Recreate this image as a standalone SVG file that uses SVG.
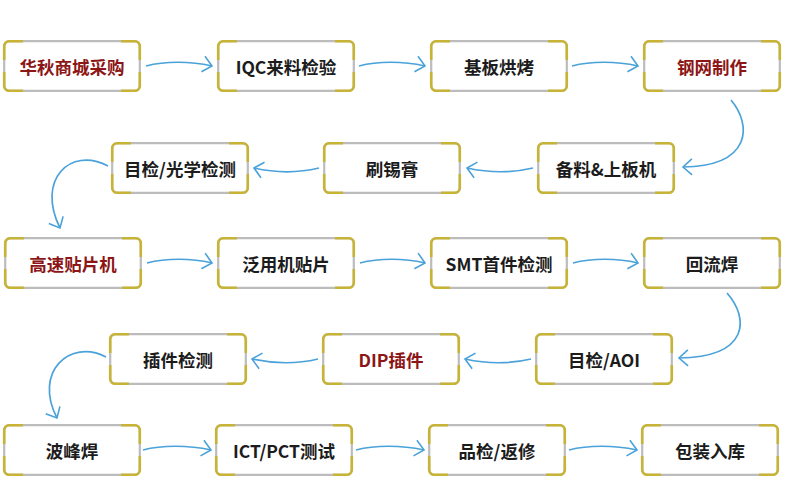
<svg xmlns="http://www.w3.org/2000/svg" width="785" height="500" viewBox="0 0 785 500">
<style>
.t{font-family:"Noto Sans CJK SC","Noto Sans",sans-serif;font-weight:bold;font-size:17.5px;fill:#1c1c1c;text-anchor:middle;dominant-baseline:central}
.r{fill:#8c1616}
.c path{fill:none;stroke:#4aa2da;stroke-width:1.7;marker-end:url(#ah)}
</style>
<defs>
<marker id="ah" markerUnits="userSpaceOnUse" markerWidth="14" markerHeight="20" viewBox="0 0 14 20" refX="11" refY="10" orient="auto">
<path d="M2,2 L11,10 L2,18" fill="none" stroke="#4aa2da" stroke-width="1.6"/>
</marker>
<g id="fr">
<rect x="1.2" y="1.2" width="135.6" height="49.6" rx="5" fill="#fff" stroke="#bcbcbc" stroke-width="2.2"/>
<path d="M1.2,20 L1.2,6.2 A5,5 0 0 1 6.2,1.2 L20,1.2 M118,1.2 L131.8,1.2 A5,5 0 0 1 136.8,6.2 L136.8,20 M136.8,32 L136.8,45.8 A5,5 0 0 1 131.8,50.8 L118,50.8 M20,50.8 L6.2,50.8 A5,5 0 0 1 1.2,45.8 L1.2,32" fill="none" stroke="#c7b336" stroke-width="2.6"/>
</g>
</defs>
<rect width="785" height="500" fill="#fff"/>
<g class="c" id="connectors">
<path d="M146,66 C165,61 190,61 212,66"/>
<path d="M359,66 C378,61 403,61 425,66"/>
<path d="M572,66 C591,61 616,61 638,66"/>
<path d="M731,100 C752,125 752,166 683,167"/>
<path d="M533,168 C512,173 490,173 467,168"/>
<path d="M319,168 C298,173 276,173 254,168"/>
<path d="M108,166 C70,146 36,180 60,228"/>
<path d="M147,263 C166,258 191,258 212,263"/>
<path d="M360,263 C379,258 404,258 425,263"/>
<path d="M573,263 C592,258 617,258 638,263"/>
<path d="M727,293 C749,318 750,357 679,358"/>
<path d="M531,359 C510,364 488,364 465,359"/>
<path d="M318,359 C297,364 275,364 252,359"/>
<path d="M106,357 C70,338 33,372 57,418"/>
<path d="M143,450 C162,445 188,445 211,450"/>
<path d="M356,450 C375,445 401,445 424,450"/>
<path d="M569,450 C588,445 614,445 637,450"/>
</g>
<g id="n1"><use href="#fr" x="3" y="40"/><text class="t r" x="72" y="66">华秋商城采购</text></g>
<g id="n2"><use href="#fr" x="217" y="40"/><text class="t" x="286" y="66">IQC来料检验</text></g>
<g id="n3"><use href="#fr" x="430" y="40"/><text class="t" x="499" y="66">基板烘烤</text></g>
<g id="n4"><use href="#fr" x="643" y="40"/><text class="t r" x="712" y="66">钢网制作</text></g>
<g id="n5"><use href="#fr" x="537" y="142"/><text class="t" x="606" y="168">备料&amp;上板机</text></g>
<g id="n6"><use href="#fr" x="323" y="142"/><text class="t" x="392" y="168">刷锡膏</text></g>
<g id="n7"><use href="#fr" x="111" y="142"/><text class="t" x="180" y="168">目检/光学检测</text></g>
<g id="n8"><use href="#fr" x="4" y="237"/><text class="t r" x="73" y="263">高速贴片机</text></g>
<g id="n9"><use href="#fr" x="217" y="237"/><text class="t" x="286" y="263">泛用机贴片</text></g>
<g id="n10"><use href="#fr" x="430" y="237"/><text class="t" x="499" y="263">SMT首件检测</text></g>
<g id="n11"><use href="#fr" x="643" y="237"/><text class="t" x="712" y="263">回流焊</text></g>
<g id="n12"><use href="#fr" x="535" y="333"/><text class="t" x="604" y="359">目检/AOI</text></g>
<g id="n13"><use href="#fr" x="322" y="333"/><text class="t r" x="391" y="359">DIP插件</text></g>
<g id="n14"><use href="#fr" x="109" y="333"/><text class="t" x="178" y="359">插件检测</text></g>
<g id="n15"><use href="#fr" x="3" y="424"/><text class="t" x="72" y="450">波峰焊</text></g>
<g id="n16"><use href="#fr" x="215" y="424"/><text class="t" x="284" y="450">ICT/PCT测试</text></g>
<g id="n17"><use href="#fr" x="428" y="424"/><text class="t" x="497" y="450">品检/返修</text></g>
<g id="n18"><use href="#fr" x="641" y="424"/><text class="t" x="710" y="450">包装入库</text></g>
</svg>
